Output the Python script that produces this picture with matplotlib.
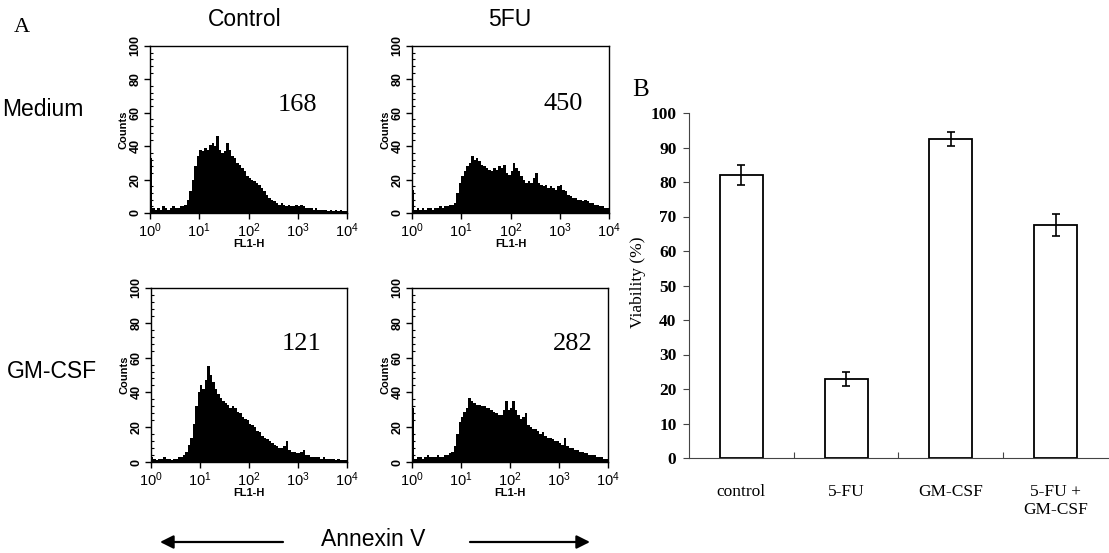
import numpy as np
import matplotlib
matplotlib.use('Agg')
import matplotlib.pyplot as plt
from matplotlib.ticker import MultipleLocator, LogLocator, NullFormatter, FixedLocator

SANS = 'Liberation Sans'
SERIF = 'Liberation Serif'
plt.rcParams['mathtext.fontset'] = 'custom'
plt.rcParams['mathtext.rm'] = SANS
plt.rcParams['mathtext.it'] = SANS
plt.rcParams['mathtext.bf'] = SANS + ':bold'

# ---------------- data ----------------
col_titles = ['Control', '5FU']
row_titles = ['Medium', 'GM-CSF']
mfi_labels = ['168', '450', '121', '282']

# Histogram counts, 20 channels per decade from 10^0 to 10^4
medium_control = [33, 3, 2, 3, 2, 4, 3, 2, 3, 4, 3, 3, 4,
                  4, 5, 8, 13, 20, 28, 34,
                  38, 37, 39, 38, 41, 42, 40, 46, 38, 36,
                  37, 42, 38, 34, 33, 30, 29, 27, 25, 22,
                  21, 20, 19, 18, 17, 15, 13, 11, 9, 8,
                  7, 6, 5, 6, 5, 4, 5, 4, 4, 5,
                  4, 5, 4, 3, 3, 3, 2, 3, 2, 2,
                  2, 2, 1, 2, 1, 2, 1, 2, 1, 1]
medium_5fu = [14, 2, 3, 2, 3, 2, 3, 3, 2, 3, 3, 4, 3, 4, 4, 5, 5,
              6, 12, 18,
              22, 25, 28, 30, 34, 32, 33, 31, 29, 28,
              27, 26, 25, 27, 26, 28, 27, 29, 24, 23,
              25, 30, 27, 25, 22, 20, 18, 19, 18, 21,
              24, 18, 17, 16, 17, 15, 16, 15, 14, 16,
              17, 14, 13, 11, 10, 9, 9, 8, 8, 7,
              8, 7, 6, 6, 5, 5, 4, 4, 3, 3]
gmcsf_control = [3, 2, 1, 2, 2, 3, 2, 2, 1, 2, 2, 3,
                 3, 4, 6, 10, 14, 22, 32, 40,
                 44, 42, 47, 55, 50, 46, 42, 39, 37, 35,
                 34, 33, 31, 32, 31, 29, 28, 26, 25, 24,
                 22, 21, 20, 18, 17, 15, 14, 13, 12, 11,
                 10, 9, 8, 8, 9, 12, 7, 6, 6, 5,
                 5, 6, 7, 4, 4, 3, 3, 3, 3, 2,
                 3, 2, 2, 2, 2, 1, 2, 1, 1, 1]
gmcsf_5fu = [31, 2, 3, 3, 2, 3, 4, 3, 3, 3, 4, 3, 3,
             4, 4, 5, 6, 9, 16, 23,
             26, 29, 31, 37, 35, 34, 33, 33, 32, 32,
             31, 31, 30, 29, 28, 27, 27, 30, 35, 30,
             31, 35, 30, 27, 25, 26, 28, 21, 20, 19,
             19, 18, 16, 17, 15, 14, 14, 13, 12, 12,
             11, 10, 14, 9, 8, 8, 7, 7, 6, 6,
             5, 5, 4, 4, 4, 3, 3, 3, 2, 2]
hist_ticks = ['$10^0$', '$10^1$', '$10^2$', '$10^3$', '$10^4$']

bar_categories = ['control', '5-FU', 'GM-CSF', '5-FU +\nGM-CSF']
viability = [82, 23, 92.5, 67.5]
viability_err = [3, 2, 2, 3.2]

# ---------------- figure ----------------
W, H = 1109, 553
fig = plt.figure(figsize=(W / 100, H / 100), dpi=100)


def ax_px(l, t, r, b):
    return fig.add_axes([l / W, 1 - b / H, (r - l) / W, (b - t) / H])


def ftext(x, y, s, **kw):
    return fig.text(x / W, 1 - y / H, s, **kw)


edges = 10 ** (np.arange(81) / 20.0)

hist_sets = [
    (medium_control, (150, 46, 347, 213), (297, 105)),
    (medium_5fu, (412, 46, 609, 213), (563, 104)),
    (gmcsf_control, (151, 288, 347, 462), (302, 344)),
    (gmcsf_5fu, (412, 288, 608, 462), (573, 344)),
]

for (vals, box, lab_pos), lab in zip(hist_sets, mfi_labels):
    ax = ax_px(*box)
    ax.stairs(vals, edges, fill=True, color='black', baseline=0)
    ax.set_xscale('log')
    ax.set_xlim(1, 1e4)
    ax.set_ylim(0, 100)
    ax.xaxis.set_major_locator(FixedLocator([1, 10, 100, 1000, 10000]))
    ax.set_xticklabels(hist_ticks, fontsize=10.5, fontweight='bold')
    ax.xaxis.set_minor_locator(LogLocator(base=10, subs=np.arange(2, 10)))
    ax.xaxis.set_minor_formatter(NullFormatter())
    ax.yaxis.set_minor_locator(MultipleLocator(4))
    ax.set_yticks([0, 20, 40, 60, 80, 100])
    ax.set_yticklabels(['0', '20', '40', '60', '80', '100'], rotation=90,
                       va='center', fontsize=9, fontweight='bold',
                       family=SANS)
    ax.tick_params(which='major', direction='out', length=4, width=1, pad=2)
    ax.tick_params(which='minor', direction='in', length=2.5, width=0.8)
    ax.set_xlabel('FL1-H', fontsize=8, fontweight='bold', family=SANS,
                  labelpad=-1)
    ax.set_ylabel('Counts', fontsize=8, fontweight='bold', family=SANS,
                  labelpad=1)
    for sp in ax.spines.values():
        sp.set_linewidth(1.0)
    ftext(lab_pos[0], lab_pos[1], lab, fontsize=19, family=SERIF,
          ha='center', va='center')

# panel A texts
ftext(22, 28, 'A', fontsize=16, family=SERIF, ha='center', va='center')
ftext(245, 20, col_titles[0], fontsize=16.5, family=SANS, ha='center', va='center')
ftext(510, 20, col_titles[1], fontsize=16.5, family=SANS, ha='center', va='center')
ftext(2, 110, row_titles[0], fontsize=16.5, family=SANS, ha='left', va='center')
ftext(7, 372, row_titles[1], fontsize=16.5, family=SANS, ha='left', va='center')
ftext(373, 540, 'Annexin V', fontsize=16.5, family=SANS, ha='center', va='center')

# arrows
ax_ov = fig.add_axes([0, 0, 1, 1])
ax_ov.set_xlim(0, W)
ax_ov.set_ylim(H, 0)
ax_ov.axis('off')
ax_ov.patch.set_alpha(0)
arrow_kw = dict(arrowstyle='-|>', mutation_scale=20, lw=1.6, color='black',
                shrinkA=0, shrinkB=0)
ax_ov.annotate('', xy=(160, 542), xytext=(283, 542), arrowprops=arrow_kw)
ax_ov.annotate('', xy=(590, 542), xytext=(470, 542), arrowprops=arrow_kw)

# ---------------- panel B ----------------
axb = ax_px(689, 113, 1108, 458)
x = np.arange(len(bar_categories))
axb.bar(x, viability, width=0.41, color='white', edgecolor='black',
        linewidth=1.3, zorder=2)
axb.errorbar(x, viability, yerr=viability_err, fmt='none', ecolor='black',
             elinewidth=1.2, capsize=3, capthick=1.2, zorder=3)
axb.set_xlim(-0.5, 3.5)
axb.set_ylim(0, 100)
axb.spines['top'].set_visible(False)
axb.spines['right'].set_visible(False)
axb.spines['left'].set_linewidth(0.8)
axb.spines['bottom'].set_linewidth(0.8)
axb.spines['left'].set_color('#444444')
axb.spines['bottom'].set_color('#444444')
axb.set_yticks(np.arange(0, 101, 10))
axb.set_yticklabels([str(v) for v in range(0, 101, 10)], fontsize=12.5,
                    fontweight='bold', family=SERIF)
axb.set_xticks(x)
axb.set_xticklabels(bar_categories, fontsize=12.5, family=SERIF,
                    linespacing=1.15)
axb.xaxis.set_minor_locator(FixedLocator([0.5, 1.5, 2.5]))
axb.tick_params(axis='x', which='major', length=0, pad=19)
axb.tick_params(axis='x', which='minor', direction='in', length=4, width=0.8,
                color='#444444')
axb.tick_params(axis='y', which='major', direction='out', length=4,
                width=0.8, pad=5, color='#444444')
ftext(638, 282, 'Viability (%)', fontsize=12.5, family=SERIF, rotation=90,
      ha='center', va='center')
ftext(641, 90, 'B', fontsize=18, family=SERIF, ha='center', va='center')

fig.savefig('out.png', dpi=100)
